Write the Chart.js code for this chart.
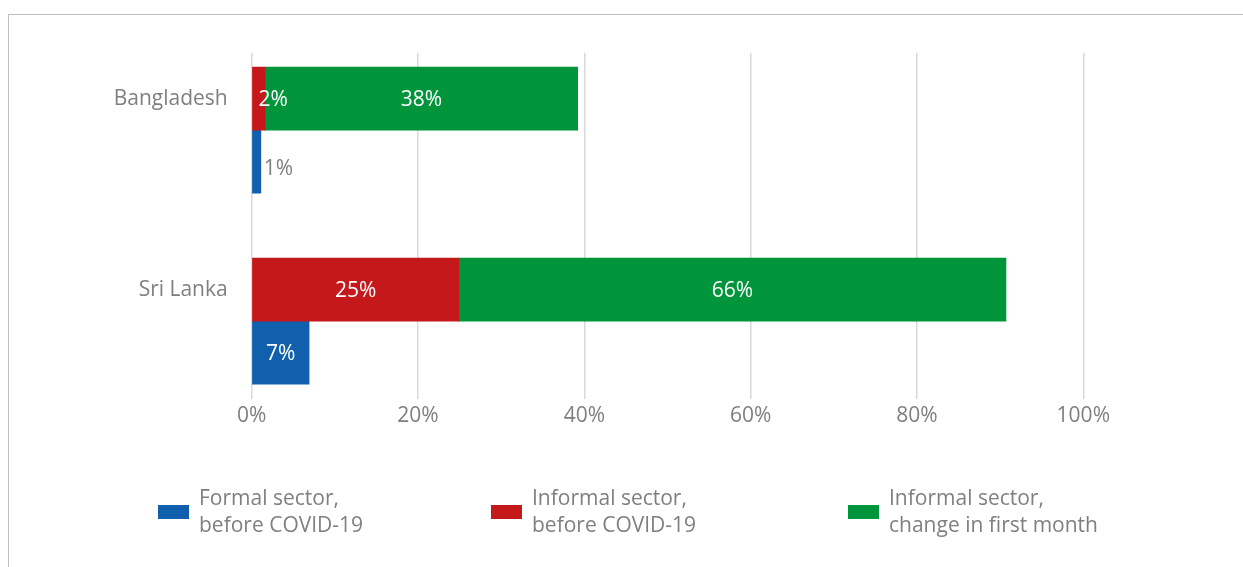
<!DOCTYPE html>
<html>
<head>
<meta charset="utf-8">
<script src="https://cdn.jsdelivr.net/npm/chart.js@4/dist/chart.umd.min.js"></script>
<style>
  html, body { margin: 0; padding: 0; background: #fff; }
  body { width: 1243px; height: 567px; position: relative; overflow: hidden; font-family: "Open Sans", sans-serif; }
  #frame { position: absolute; left: 8px; top: 14px; right: -10px; bottom: -10px; border-top: 1.5px solid #bfbfbf; border-left: 1.5px solid #bfbfbf; }
  #wrap { position: absolute; left: 0; top: 0; width: 1243px; height: 567px; }
  #legend { position: absolute; left: 0; top: 0; width: 1243px; height: 567px; pointer-events: none; }
  .item { position: absolute; top: 484px; }
  .sw { position: absolute; left: 0; top: 21px; width: 31px; height: 14px; }
  .txt { position: absolute; left: 41px; top: 0; white-space: nowrap; font-size: 21px; line-height: 27px; color: #7f7f7f; }
</style>
</head>
<body>
<div id="frame"></div>
<div id="wrap"><canvas id="c"></canvas></div>
<div id="legend"></div>
<script>
// ---- data ----
const categories = ['Bangladesh', 'Sri Lanka'];
const formalBefore = [1.1, 6.9];      // Formal sector, before COVID-19 (%)
const informalBefore = [1.6, 24.9];   // Informal sector, before COVID-19 (%)
const informalChange = [37.6, 65.8];  // Informal sector, change in first month (%)
const xTickValues = [0, 20, 40, 60, 80, 100];
const seriesLabels = [
  ['Formal sector,', 'before COVID-19'],
  ['Informal sector,', 'before COVID-19'],
  ['Informal sector,', 'change in first month']
];

// ---- styles ----
const colors = ['#1060ad', '#c4181a', '#00953b'];
const FONT = '"Open Sans", sans-serif';
const FSIZE = 21;
const GRAY = '#7f7f7f';

function toPoints(arr) { return arr.map((v, i) => ({ x: v, y: i })); }

const datasets = [
  { label: seriesLabels[0].join(' '), data: toPoints(formalBefore), backgroundColor: colors[0], stack: 'formal', order: 2, overflow: 'outside' },
  { label: seriesLabels[1].join(' '), data: toPoints(informalBefore), backgroundColor: colors[1], stack: 'informal', order: 0, overflow: 'insideLeft' },
  { label: seriesLabels[2].join(' '), data: toPoints(informalChange), backgroundColor: colors[2], stack: 'informal', order: 1, overflow: 'insideLeft' }
];

const labelPlugin = {
  id: 'barLabels',
  afterDatasetsDraw(chart) {
    const ctx = chart.ctx;
    ctx.save();
    ctx.font = FSIZE + 'px ' + FONT;
    ctx.textBaseline = 'middle';
    chart.data.datasets.forEach((ds, di) => {
      const meta = chart.getDatasetMeta(di);
      meta.data.forEach((el, i) => {
        const v = ds.data[i].x;
        const text = Math.round(v) + '%';
        const w = ctx.measureText(text).width;
        const { x, y, base } = el.getProps(['x', 'y', 'base'], true);
        const left = Math.min(x, base), right = Math.max(x, base);
        if (right - left >= w + 6) {
          ctx.fillStyle = '#ffffff';
          ctx.textAlign = 'center';
          ctx.fillText(text, (left + right) / 2, y + 1);
        } else if (ds.overflow === 'outside') {
          ctx.fillStyle = GRAY;
          ctx.textAlign = 'left';
          ctx.fillText(text, right + 3, y + 7);
        } else {
          ctx.fillStyle = '#ffffff';
          ctx.textAlign = 'left';
          ctx.fillText(text, left + 6, y + 1);
        }
      });
    });
    ctx.restore();
  }
};

new Chart(document.getElementById('c'), {
  type: 'bar',
  data: { datasets },
  options: {
    indexAxis: 'y',
    responsive: true,
    maintainAspectRatio: false,
    animation: false,
    events: [],
    barThickness: 63,
    layout: { padding: { top: 52.7, right: 159.7, left: 0, bottom: 0 } },
    plugins: { legend: { display: false }, tooltip: { enabled: false } },
    scales: {
      x: {
        type: 'linear',
        min: 0, max: 100,
        afterBuildTicks: s => { s.ticks = xTickValues.map(v => ({ value: v })); },
        afterFit: s => { s.height = 168; },
        grid: { color: '#d9d9d9', lineWidth: 1.5, drawTicks: false },
        border: { display: false },
        ticks: { callback: v => v + '%', color: GRAY, font: { family: FONT, size: FSIZE }, padding: 4, autoSkip: false, maxRotation: 0 }
      },
      y: {
        type: 'linear',
        offset: false,
        bounds: 'data',
        grace: 0,
        reverse: true,
        min: -0.405, max: 1.408,
        afterDataLimits: s => { s.min = -0.405; s.max = 1.408; },
        afterBuildTicks: s => { s.ticks = categories.map((c, i) => ({ value: i })); },
        afterFit: s => { s.width = 251.7; },
        grid: { display: false, drawTicks: false, offset: false },
        border: { display: false },
        ticks: { callback: v => categories[v], color: GRAY, font: { family: FONT, size: FSIZE }, padding: 24, labelOffset: -31.5, autoSkip: false }
      }
    }
  },
  plugins: [labelPlugin]
});

// ---- HTML legend built from series labels ----
const legendLefts = [158, 491, 848];
const legend = document.getElementById('legend');
seriesLabels.forEach((lines, i) => {
  const item = document.createElement('div');
  item.className = 'item';
  item.style.left = legendLefts[i] + 'px';
  const sw = document.createElement('div');
  sw.className = 'sw';
  sw.style.background = colors[i];
  const txt = document.createElement('div');
  txt.className = 'txt';
  txt.innerHTML = lines.map(l => l.replace(/&/g, '&amp;').replace(/</g, '&lt;')).join('<br>');
  item.appendChild(sw);
  item.appendChild(txt);
  legend.appendChild(item);
});
</script>
</body>
</html>
